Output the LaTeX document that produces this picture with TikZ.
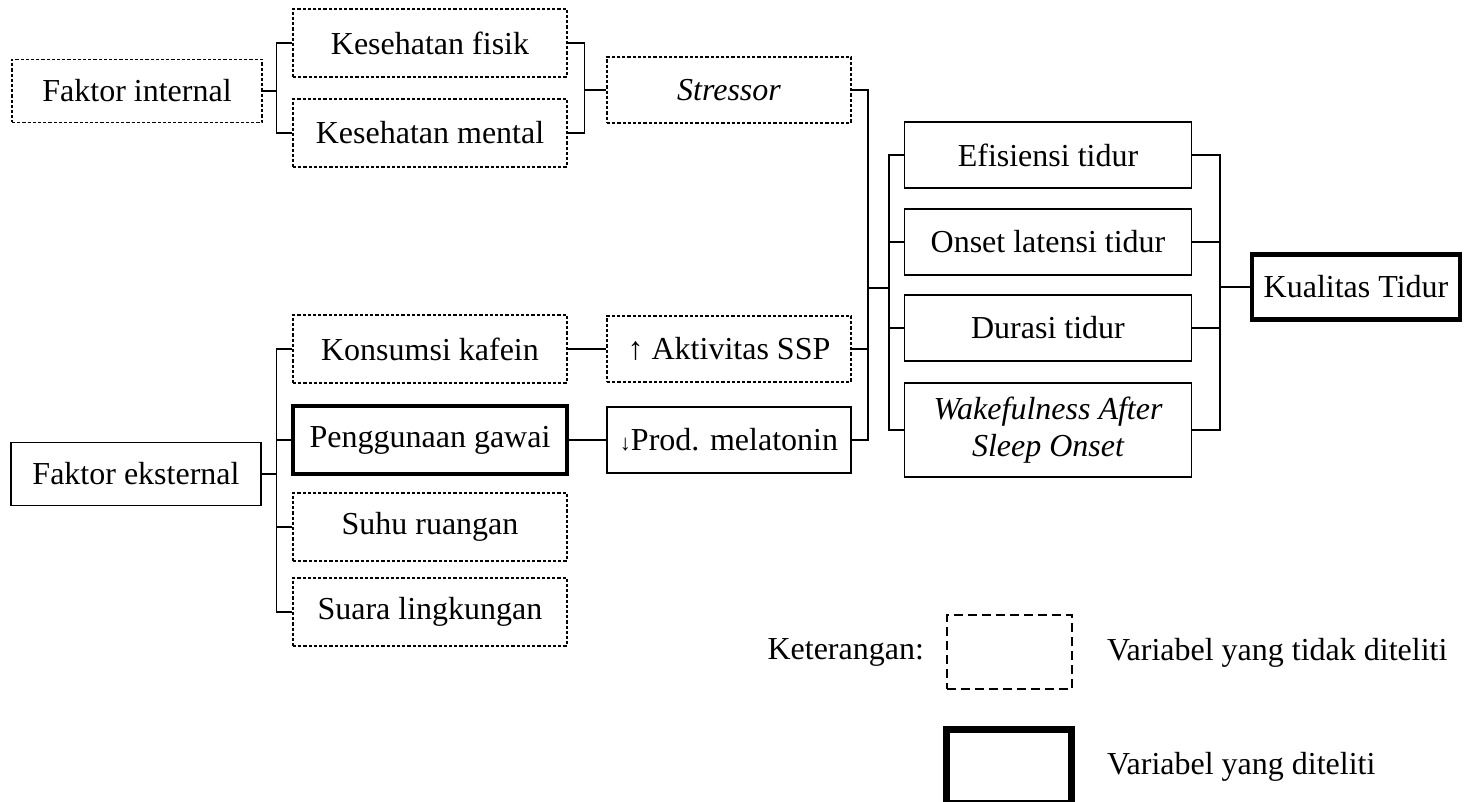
\documentclass[tikz,border=0pt]{standalone}
\usepackage{fontspec}
\setmainfont{Liberation Serif}
\usepackage{tikz}
\usetikzlibrary{positioning,calc}

\begin{document}
\begin{tikzpicture}[
    x=0.5pt, y=-0.5pt,
    every node/.style={font=\fontsize{16}{18.5}\selectfont},
    box/.style={draw, line width=0.6pt, inner sep=0pt, align=center},
    dbox/.style={box, dash pattern=on 1.6pt off 1pt},
    tbox/.style={box, line width=2.3pt},
    faktor/.style={minimum width=125pt, minimum height=31.5pt},
    mid/.style={minimum width=137pt, minimum height=34pt},
    eff/.style={minimum width=122pt, minimum height=33pt},
    dim/.style={minimum width=143.5pt, minimum height=33pt},
    link/.style={line width=0.75pt}
]
\useasboundingbox (0,0) rectangle (1464,802);

% Internal factors
\node[dbox, faktor] (fint) at (137,91) {Faktor internal};
\node[dbox, mid] (kfis) at (430,43) {Kesehatan fisik};
\node[dbox, mid] (kmen) at (430,133) {Kesehatan mental};
\node[dbox, eff] (stres) at (729,90) {\itshape Stressor};

\draw[link] (fint.east) -- ++(14,0) |- (kfis.west);
\draw[link] (fint.east) -- ++(14,0) |- (kmen.west);
\draw[link] (kfis.east) -- ++(17,0) |- (stres.west);
\draw[link] (kmen.east) -- ++(17,0) |- (stres.west);

% External factors
\node[box, faktor] (fext) at (136,474) {Faktor eksternal};
\node[dbox, mid] (kaf) at (430,349) {Konsumsi kafein};
\node[tbox, mid] (gaw) at (430,440) {Penggunaan gawai};
\node[dbox, mid] (suhu) at (430,527) {Suhu ruangan};
\node[dbox, mid] (suara) at (430,612) {Suara lingkungan};

\draw[link] (fext.east) -- ++(15,0) |- (kaf.west);
\draw[link] (fext.east) -- ++(15,0) |- (gaw.west);
\draw[link] (fext.east) -- ++(15,0) |- (suhu.west);
\draw[link] (fext.east) -- ++(15,0) |- (suara.west);

% Effects
\node[dbox, eff] (aktv) at (729,349) {↑ Aktivitas SSP};
\node[box, eff] (prod) at (729,440) {{\fontsize{11}{11}\selectfont ↓}Prod. melatonin};

\draw[link] (kaf) -- (aktv);
\draw[link] (gaw) -- (prod);

% Joining line
\coordinate (hub) at (868,288);
\draw[link] (stres.east) -| (hub);
\draw[link] (aktv.east) -| (hub);
\draw[link] (prod.east) -| (hub);

% Sleep quality dimensions
\node[box, dim] (efis) at (1048,155) {Efisiensi tidur};
\node[box, dim] (onset) at (1048,242) {Onset latensi tidur};
\node[box, dim] (durasi) at (1048,328) {Durasi tidur};
\node[box, dim, minimum height=47pt] (waso) at (1048,430) {\itshape Wakefulness After\\\itshape Sleep Onset};

\foreach \d in {efis,onset,durasi,waso}
  \draw[link] (hub) -- ++(21,0) |- (\d.west);

\node[tbox, minimum width=104pt, minimum height=32.5pt] (kual) at (1356,287) {Kualitas Tidur};

\foreach \d in {efis,onset,durasi,waso}
  \draw[link] (\d.east) -- ++(28,0) |- (kual.west);

% Legend
\node[box, line width=1pt, dash pattern=on 4.5pt off 2.5pt, minimum width=62.5pt, minimum height=37pt] (legd) at (1009,652) {};
\node[anchor=east] (ket) at (931,652) {Keterangan:};
\node[anchor=west] (legdt) at (1100,653) {Variabel yang tidak diteliti};
\node[box, line width=3.5pt, minimum width=62.5pt, minimum height=37pt] (legt) at (1009,766) {};
\node[anchor=west] (legtt) at (1100,767) {Variabel yang diteliti};

\end{tikzpicture}
\end{document}
